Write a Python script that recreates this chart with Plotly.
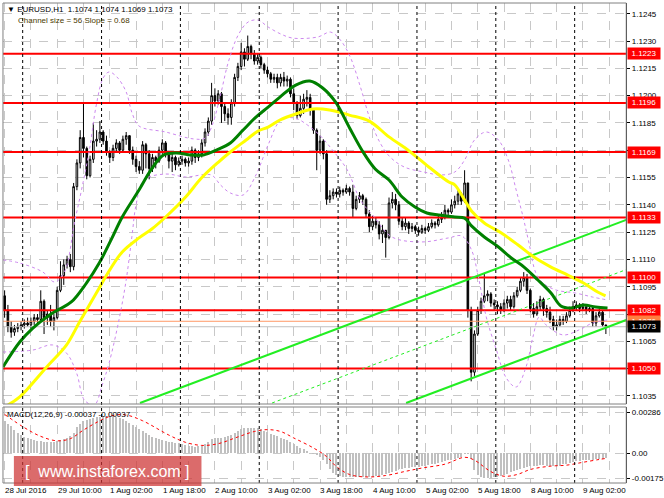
import plotly.graph_objects as go

W, H = 664, 498

# ---------------- data ----------------
bar_idx = list(range(184))
open_ = [1.1090,1.1082,1.1073,1.1070,1.1072,1.1073,1.1074,1.1075,1.1074,1.1076,
         1.1078,1.1077,1.1087,1.1078,1.1080,1.1076,1.1078,1.1093,1.1101,1.1107,
         1.1110,1.1106,1.1150,1.1163,1.1177,1.1171,1.1156,1.1165,1.1175,1.1176,
         1.1180,1.1175,1.1169,1.1166,1.1171,1.1174,1.1170,1.1176,1.1178,1.1170,
         1.1165,1.1161,1.1159,1.1173,1.1168,1.1160,1.1166,1.1164,1.1170,1.1174,
         1.1168,1.1164,1.1166,1.1162,1.1164,1.1165,1.1163,1.1164,1.1170,1.1166,
         1.1168,1.1174,1.1180,1.1186,1.1200,1.1197,1.1201,1.1194,1.1190,1.1188,
         1.1196,1.1210,1.1216,1.1224,1.1220,1.1227,1.1223,1.1219,1.1221,1.1217,
         1.1214,1.1212,1.1209,1.1210,1.1207,1.1210,1.1208,1.1209,1.1201,1.1196,
         1.1189,1.1193,1.1198,1.1199,1.1192,1.1181,1.1170,1.1175,1.1168,1.1143,
         1.1145,1.1147,1.1146,1.1148,1.1147,1.1149,1.1147,1.1138,1.1143,1.1145,
         1.1143,1.1135,1.1128,1.1131,1.1129,1.1124,1.1126,1.1122,1.1141,1.1143,
         1.1140,1.1131,1.1128,1.1130,1.1127,1.1128,1.1126,1.1125,1.1127,1.1126,
         1.1128,1.1130,1.1129,1.1132,1.1133,1.1137,1.1136,1.1140,1.1142,1.1146,
         1.1142,1.1152,1.1082,1.1048,1.1069,1.1082,1.1087,1.1090,1.1091,1.1086,
         1.1085,1.1084,1.1082,1.1086,1.1088,1.1084,1.1090,1.1093,1.1098,1.1100,
         1.1093,1.1083,1.1080,1.1084,1.1088,1.1083,1.1081,1.1077,1.1073,1.1074,
         1.1077,1.1076,1.1079,1.1082,1.1084,1.1085,1.1083,1.1084,1.1082,1.1083,
         1.1075,1.1079,1.1081,1.1074]
high = [1.1093,1.1085,1.1076,1.1074,1.1075,1.1076,1.1077,1.1078,1.1078,1.1080,
        1.1080,1.1093,1.1088,1.1082,1.1085,1.1080,1.1095,1.1109,1.1110,1.1112,
        1.1113,1.1152,1.1165,1.1181,1.1196,1.1172,1.1167,1.1185,1.1181,1.1186,
        1.1181,1.1178,1.1170,1.1173,1.1176,1.1175,1.1178,1.1180,1.1178,1.1172,
        1.1167,1.1164,1.1175,1.1174,1.1170,1.1168,1.1167,1.1172,1.1176,1.1175,
        1.1169,1.1168,1.1167,1.1166,1.1167,1.1166,1.1166,1.1172,1.1171,1.1170,
        1.1176,1.1182,1.1188,1.1207,1.1204,1.1203,1.1202,1.1196,1.1193,1.1198,
        1.1212,1.1218,1.1229,1.1226,1.1233,1.1228,1.1225,1.1223,1.1222,1.1218,
        1.1216,1.1213,1.1212,1.1212,1.1212,1.1213,1.1211,1.1210,1.1204,1.1197,
        1.1200,1.1201,1.1203,1.1201,1.1193,1.1182,1.1178,1.1176,1.1170,1.1148,
        1.1149,1.1149,1.1150,1.1149,1.1151,1.1150,1.1151,1.1145,1.1147,1.1146,
        1.1144,1.1137,1.1134,1.1133,1.1131,1.1129,1.1126,1.1144,1.1147,1.1146,
        1.1142,1.1133,1.1133,1.1131,1.1130,1.1129,1.1128,1.1129,1.1128,1.1130,
        1.1132,1.1131,1.1134,1.1136,1.1140,1.1138,1.1143,1.1145,1.1148,1.1147,
        1.1159,1.1152,1.1084,1.1071,1.1084,1.1089,1.1102,1.1093,1.1092,1.1088,
        1.1087,1.1086,1.1088,1.1090,1.1090,1.1092,1.1095,1.1100,1.1103,1.1102,
        1.1094,1.1086,1.1087,1.1090,1.1089,1.1085,1.1084,1.1079,1.1077,1.1079,
        1.1079,1.1081,1.1084,1.1087,1.1087,1.1086,1.1086,1.1085,1.1085,1.1084,
        1.1081,1.1083,1.1082,1.1074]
low = [1.1078,1.1070,1.1067,1.1068,1.1070,1.1071,1.1072,1.1073,1.1072,1.1074,
       1.1075,1.1076,1.1069,1.1074,1.1073,1.1071,1.1077,1.1092,1.1096,1.1105,
       1.1103,1.1104,1.1148,1.1160,1.1166,1.1154,1.1155,1.1163,1.1172,1.1174,
       1.1173,1.1167,1.1163,1.1164,1.1169,1.1168,1.1169,1.1173,1.1168,1.1162,
       1.1158,1.1157,1.1157,1.1160,1.1154,1.1158,1.1160,1.1163,1.1168,1.1166,
       1.1160,1.1158,1.1159,1.1161,1.1162,1.1161,1.1161,1.1162,1.1163,1.1164,
       1.1166,1.1172,1.1178,1.1184,1.1194,1.1195,1.1185,1.1186,1.1184,1.1184,
       1.1194,1.1208,1.1214,1.1216,1.1219,1.1220,1.1217,1.1217,1.1215,1.1212,
       1.1210,1.1207,1.1207,1.1204,1.1205,1.1205,1.1205,1.1199,1.1192,1.1187,
       1.1188,1.1190,1.1194,1.1189,1.1179,1.1159,1.1168,1.1165,1.1140,1.1141,
       1.1143,1.1144,1.1144,1.1145,1.1146,1.1145,1.1133,1.1137,1.1141,1.1140,
       1.1133,1.1125,1.1126,1.1127,1.1121,1.1119,1.1111,1.1121,1.1138,1.1137,
       1.1129,1.1126,1.1126,1.1124,1.1125,1.1124,1.1123,1.1124,1.1124,1.1125,
       1.1127,1.1127,1.1128,1.1130,1.1132,1.1133,1.1135,1.1138,1.1140,1.1140,
       1.1141,1.1078,1.1043,1.1046,1.1068,1.1080,1.1086,1.1087,1.1084,1.1082,
       1.1080,1.1080,1.1081,1.1083,1.1082,1.1083,1.1089,1.1092,1.1095,1.1091,
       1.1081,1.1078,1.1079,1.1082,1.1079,1.1078,1.1075,1.1071,1.1071,1.1073,
       1.1074,1.1075,1.1078,1.1081,1.1082,1.1081,1.1082,1.1080,1.1081,1.1073,
       1.1073,1.1078,1.1073,1.1069]
close = [1.1082,1.1073,1.1070,1.1072,1.1073,1.1074,1.1075,1.1074,1.1076,1.1078,
         1.1077,1.1087,1.1078,1.1080,1.1076,1.1078,1.1093,1.1101,1.1107,1.1110,
         1.1106,1.1150,1.1163,1.1177,1.1171,1.1156,1.1165,1.1175,1.1176,1.1180,
         1.1175,1.1169,1.1166,1.1171,1.1174,1.1170,1.1176,1.1178,1.1170,1.1165,
         1.1161,1.1159,1.1173,1.1168,1.1160,1.1166,1.1164,1.1170,1.1174,1.1168,
         1.1164,1.1166,1.1162,1.1164,1.1165,1.1163,1.1164,1.1170,1.1166,1.1168,
         1.1174,1.1180,1.1186,1.1200,1.1197,1.1201,1.1194,1.1190,1.1188,1.1196,
         1.1210,1.1216,1.1224,1.1220,1.1227,1.1223,1.1219,1.1221,1.1217,1.1214,
         1.1212,1.1209,1.1210,1.1207,1.1210,1.1208,1.1209,1.1201,1.1196,1.1189,
         1.1193,1.1198,1.1199,1.1192,1.1181,1.1170,1.1175,1.1168,1.1143,1.1145,
         1.1147,1.1146,1.1148,1.1147,1.1149,1.1147,1.1138,1.1143,1.1145,1.1143,
         1.1135,1.1128,1.1131,1.1129,1.1124,1.1126,1.1122,1.1141,1.1143,1.1140,
         1.1131,1.1128,1.1130,1.1127,1.1128,1.1126,1.1125,1.1127,1.1126,1.1128,
         1.1130,1.1129,1.1132,1.1133,1.1137,1.1136,1.1140,1.1142,1.1146,1.1142,
         1.1152,1.1082,1.1048,1.1069,1.1082,1.1087,1.1090,1.1091,1.1086,1.1085,
         1.1084,1.1082,1.1086,1.1088,1.1084,1.1090,1.1093,1.1098,1.1100,1.1093,
         1.1083,1.1080,1.1084,1.1088,1.1083,1.1081,1.1077,1.1073,1.1074,1.1077,
         1.1076,1.1079,1.1082,1.1084,1.1085,1.1083,1.1084,1.1082,1.1083,1.1075,
         1.1079,1.1081,1.1074,1.1073]

# moving averages: bar position, price
ma_fast_x = [-0.5,4.6,8.6,13.7,16.7,20.3,24.9,28.8,32.4,35.8,40.9,44.5,48.4,52.4,56.6,60.5,64.5,
             68.7,72.6,76.5,80.2,83.8,88.6,92.9,96.8,100.7,105.0,108.9,112.8,117.0,121.0,124.9,
             128.5,132.1,137.0,140.0,142.1,146.0,150.3,154.2,158.1,162.3,166.3,169.3,172.3,
             176.2,179.9,183.5]
ma_fast_y = [1.10509,1.10646,1.10723,1.10795,1.10827,1.10866,1.10970,1.11080,1.11207,1.11333,
             1.11481,1.11591,1.11674,1.11685,1.11674,1.11674,1.11701,1.11740,1.11811,1.11882,
             1.11937,1.11992,1.12058,1.12080,1.12042,1.11965,1.11822,1.11696,1.11597,1.11536,
             1.11443,1.11388,1.11355,1.11344,1.11333,1.11327,1.11284,1.11223,1.11168,1.11108,
             1.11058,1.10987,1.10915,1.10844,1.10833,1.10849,1.10838,1.10833]
ma_slow_x = [1.0,4.6,12.8,18.8,22.8,25.8,28.8,31.8,35.8,40.9,44.8,49.0,55.1,59.9,65.1,68.7,73.5,
             77.1,80.2,83.8,88.6,93.8,98.9,104.9,111.0,117.0,123.1,129.1,135.2,137.0,140.0,142.1,
             146.0,151.2,156.3,161.1,166.3,171.4,176.2,180.5,182.9]
ma_slow_y = [1.10300,1.10344,1.10509,1.10629,1.10756,1.10849,1.10943,1.11036,1.11141,1.11218,
             1.11267,1.11333,1.11443,1.11547,1.11635,1.11690,1.11756,1.11805,1.11827,1.11866,
             1.11899,1.11926,1.11921,1.11893,1.11860,1.11773,1.11696,1.11608,1.11525,1.11510,
             1.11426,1.11366,1.11300,1.11245,1.11179,1.11113,1.11058,1.11014,1.10970,1.10921,
             1.10899]

# bands (dotted violet)
band_up_x = [-0.5,4.6,11.6,15.2,18.2,21.3,23.4,25.8,27.9,30.0,31.8,34.2,37.0,38.8,40.9,49.0,57.5,
             61.1,63.2,65.7,68.1,71.1,74.1,77.1,80.2,84.1,87.7,95.3,99.2,102.2,105.2,108.3,111.3,
             114.3,117.3,121.6,127.6,133.0,137.0,140.0,143.0,146.6,150.3,153.3,155.7,157.8,159.6,
             161.7,163.9,167.8,173.8,179.0,183.5]
band_up_y = [1.11097,1.11080,1.11031,1.10976,1.11031,1.11305,1.11481,1.11701,1.11948,1.12097,
             1.12130,1.12102,1.12020,1.11904,1.11833,1.11800,1.11762,1.11767,1.11838,1.12003,
             1.12185,1.12333,1.12404,1.12415,1.12377,1.12338,1.12316,1.12322,1.12349,1.12305,
             1.12212,1.12047,1.11866,1.11740,1.11663,1.11608,1.11580,1.11564,1.11580,1.11646,
             1.11756,1.11800,1.11756,1.11646,1.11481,1.11333,1.11190,1.11025,1.10970,1.10932,
             1.10915,1.10893,1.10877]
band_lo_x = [-0.5,8.6,14.6,18.8,21.9,24.3,27.3,29.7,31.8,34.8,37.0,38.8,40.0,42.4,49.0,55.1,62.9,
             65.7,68.7,72.6,76.5,80.2,84.1,88.3,92.2,95.8,99.8,104.3,108.3,112.5,117.9,127.0,
             135.1,139.1,142.1,144.2,146.6,149.7,152.7,155.7,158.7,160.8,162.7,164.8,169.9,174.8,
             179.0,183.5]
band_lo_y = [1.10591,1.10602,1.10630,1.10586,1.10476,1.10327,1.10300,1.10410,1.10531,1.10767,
             1.10987,1.11234,1.11399,1.11536,1.11569,1.11553,1.11564,1.11509,1.11465,1.11454,
             1.11564,1.11729,1.11866,1.11877,1.11838,1.11784,1.11701,1.11591,1.11426,1.11333,
             1.11223,1.11196,1.11218,1.11229,1.11152,1.11003,1.10783,1.10602,1.10448,1.10399,
             1.10509,1.10674,1.10783,1.10740,1.10685,1.10712,1.10751,1.10767]

# regression channel (slope 0.68 pip/bar, size 56 pips)
chan_upper = ([41.2, 189.2], [1.10311, 1.11317])
chan_mid = ([81.4, 189.2], [1.10311, 1.11044])
chan_lower = ([122.2, 189.2], [1.10311, 1.10767])

levels = [1.1223, 1.1196, 1.1169, 1.1133, 1.1100, 1.1082, 1.1050]
level_labels = ["1.1223", "1.1196", "1.1169", "1.1133", "1.1100", "1.1082", "1.1050"]
ask_level, bid_level = 1.1076, 1.1073

price_ticks = [1.1035, 1.1050, 1.1065, 1.1080, 1.1095, 1.1110, 1.1125, 1.1140, 1.1155,
               1.1170, 1.1185, 1.1200, 1.1215, 1.1230, 1.1245]
# labels hidden behind the level boxes are left blank (as in the terminal)
price_tick_text = ["1.1035", "", "1.1065", "", "1.1095", "1.1110", "1.1125", "1.1140",
                   "1.1155", "", "1.1185", "1.1200", "1.1215", "1.1230", "1.1245"]

time_label_pos = [0, 16, 32, 48, 64, 80, 96, 112, 128, 144, 160, 176]
time_labels = ["28 Jul 2016", "29 Jul 10:00", "1 Aug 02:00", "1 Aug 18:00", "2 Aug 10:00",
               "3 Aug 02:00", "3 Aug 18:00", "4 Aug 10:00", "5 Aug 02:00", "5 Aug 18:00",
               "8 Aug 10:00", "9 Aug 02:00"]
day_starts = [6, 30, 54, 78, 102, 126, 150, 174]

macd_hist = [0.00225,0.00205,0.00185,0.00160,0.00140,0.00125,0.00112,0.00102,0.00095,0.00090,
             0.00086,0.00082,0.00080,0.00079,0.00079,0.00080,0.00084,0.00090,0.00097,0.00104,
             0.00118,0.00140,0.00180,0.00205,0.00225,0.00232,0.00240,0.00245,0.00250,0.00253,
             0.00256,0.00258,0.00259,0.00256,0.00250,0.00244,0.00236,0.00225,0.00212,0.00195,
             0.00180,0.00166,0.00155,0.00143,0.00128,0.00114,0.00105,0.00095,0.00090,0.00085,
             0.00080,0.00076,0.00072,0.00068,0.00063,0.00057,0.00052,0.00047,0.00044,0.00046,
             0.00050,0.00060,0.00075,0.00095,0.00104,0.00106,0.00108,0.00112,0.00118,0.00128,
             0.00140,0.00155,0.00166,0.00172,0.00177,0.00177,0.00175,0.00172,0.00166,0.00155,
             0.00145,0.00136,0.00128,0.00118,0.00108,0.00098,0.00090,0.00080,0.00066,0.00050,
             0.00038,0.00025,0.00012,0.00000,-0.00010,-0.00017,-0.00030,-0.00050,-0.00080,-0.00115,
             -0.00138,-0.00150,-0.00160,-0.00164,-0.00167,-0.00169,-0.00170,-0.00170,-0.00169,-0.00169,
             -0.00169,-0.00168,-0.00166,-0.00162,-0.00158,-0.00150,-0.00145,-0.00140,-0.00133,-0.00125,
             -0.00115,-0.00110,-0.00105,-0.00102,-0.00100,-0.00098,-0.00096,-0.00093,-0.00090,-0.00086,
             -0.00080,-0.00076,-0.00070,-0.00062,-0.00057,-0.00051,-0.00046,-0.00040,-0.00033,-0.00027,
             -0.00010,-0.00005,-0.00041,-0.00120,-0.00150,-0.00170,-0.00174,-0.00174,-0.00172,-0.00170,
             -0.00164,-0.00158,-0.00150,-0.00143,-0.00136,-0.00128,-0.00120,-0.00110,-0.00102,-0.00097,
             -0.00092,-0.00090,-0.00088,-0.00086,-0.00085,-0.00088,-0.00090,-0.00091,-0.00090,-0.00088,
             -0.00080,-0.00074,-0.00068,-0.00062,-0.00058,-0.00054,-0.00052,-0.00050,-0.00048,-0.00046,
             -0.00043,-0.00041,-0.00039,-0.00037]
signal_x = [0, 6, 11, 16, 20, 24, 29, 33, 37, 42, 50, 55, 60, 65, 71, 76, 80, 84, 88, 94, 98, 101,
            105, 110, 116, 122, 127, 134, 140, 143, 148, 152, 156, 160, 166, 171, 176, 181, 183]
signal_y = [0.00269, 0.00177, 0.00116, 0.00085, 0.00100, 0.00160, 0.00225, 0.00262, 0.00265,
            0.00225, 0.00125, 0.00075, 0.00053, 0.00065, 0.00112, 0.00150, 0.00163, 0.00150,
            0.00105, 0.00035, -0.00025, -0.00095, -0.00150, -0.00167, -0.00157, -0.00128,
            -0.00105, -0.00078, -0.00030, -0.00050, -0.00130, -0.00162, -0.00150, -0.00115,
            -0.00092, -0.00085, -0.00065, -0.00045, -0.00038]
macd_ticks = [0.00286, 0.0, -0.00175]
macd_tick_text = ["0.00286", "0.00", "-0.00175"]

# ---------------- geometry ----------------
X0, X1 = 3, 631          # plot area pixels (left/right)
MAIN_T, MAIN_B = 3, 404
MACD_T, MACD_B = 407, 483
FONT = "Liberation Sans, Arial, sans-serif"


def px(x):
    return x / W


def py(y):
    return 1 - y / H


fig = go.Figure()

# red support / resistance levels
for lv in levels:
    fig.add_trace(go.Scatter(x=[-0.5, 189.2], y=[lv, lv], mode="lines",
                             line=dict(color="#ff0000", width=2), hoverinfo="skip", showlegend=False))
fig.add_trace(go.Scatter(x=[-0.5, 189.2], y=[ask_level, ask_level], mode="lines",
                         line=dict(color="#ff9966", width=1), hoverinfo="skip", showlegend=False))
fig.add_trace(go.Scatter(x=[-0.5, 189.2], y=[bid_level, bid_level], mode="lines",
                         line=dict(color="#c0c0c0", width=1), hoverinfo="skip", showlegend=False))

# bands
for bx, by in ((band_up_x, band_up_y), (band_lo_x, band_lo_y)):
    fig.add_trace(go.Scatter(x=bx, y=by, mode="lines", line=dict(color="#cc88ee", width=1, dash="dot"),
                             line_shape="spline", hoverinfo="skip", showlegend=False))

# channel
for (cx, cy), dash, wd in ((chan_upper, "solid", 2), (chan_mid, "dot", 1), (chan_lower, "solid", 2)):
    fig.add_trace(go.Scatter(x=cx, y=cy, mode="lines", line=dict(color="#22ee22", width=wd, dash=dash),
                             hoverinfo="skip", showlegend=False))

# moving averages
fig.add_trace(go.Scatter(x=ma_slow_x, y=ma_slow_y, mode="lines", line=dict(color="#ffff00", width=3),
                         line_shape="spline", hoverinfo="skip", showlegend=False))
fig.add_trace(go.Scatter(x=ma_fast_x, y=ma_fast_y, mode="lines", line=dict(color="#008000", width=3),
                         line_shape="spline", hoverinfo="skip", showlegend=False))

# candles
fig.add_trace(go.Candlestick(x=bar_idx, open=open_, high=high, low=low, close=close,
                             increasing=dict(line=dict(color="#000000", width=1), fillcolor="#ffffff"),
                             decreasing=dict(line=dict(color="#000000", width=1), fillcolor="#000000"),
                             whiskerwidth=0, hoverinfo="skip", showlegend=False))

# MACD
fig.add_trace(go.Bar(x=bar_idx, y=macd_hist, yaxis="y2", marker=dict(color="#c0c0c0", line=dict(width=0)),
                     width=0.6, hoverinfo="skip", showlegend=False))
fig.add_trace(go.Scatter(x=signal_x, y=signal_y, yaxis="y2", mode="lines", line_shape="spline",
                         line=dict(color="#ff0000", width=1, dash="dot"), hoverinfo="skip", showlegend=False))

shapes = []
for d in day_starts:
    shapes.append(dict(type="line", xref="x", yref="paper", x0=d - 0.5, x1=d - 0.5,
                       y0=py(MACD_B), y1=py(MAIN_T), line=dict(color="#000000", width=1, dash="dot"),
                       layer="above"))
# panel borders
for (ya, yb) in ((MAIN_T, MAIN_B), (MACD_T, MACD_B)):
    shapes.append(dict(type="rect", xref="paper", yref="paper", x0=px(X0), x1=px(X1),
                       y0=py(yb), y1=py(ya), line=dict(color="#808080", width=1), layer="above"))
# watermark
shapes.append(dict(type="rect", xref="paper", yref="paper", x0=px(14), x1=px(203), y0=py(486), y1=py(456),
                   fillcolor="rgba(205,50,50,0.72)", line=dict(width=0), layer="above"))

ann = []
ann.append(dict(xref="paper", yref="paper", x=px(5), y=py(9), xanchor="left", yanchor="middle",
                text="▼ EURUSD,H1  1.1074 1.1074 1.1069 1.1073", showarrow=False,
                font=dict(family=FONT, size=8, color="#000000")))
ann.append(dict(xref="paper", yref="paper", x=px(16), y=py(20), xanchor="left", yanchor="middle",
                text="Channel size = 56 Slope = 0.68", showarrow=False,
                font=dict(family=FONT, size=8, color="#4a3a00")))
ann.append(dict(xref="paper", yref="paper", x=px(5), y=py(414), xanchor="left", yanchor="middle",
                text="MACD(12,26,9) -0.00037 -0.00037", showarrow=False,
                font=dict(family=FONT, size=8, color="#000000")))
for pos, lab in zip(time_label_pos, time_labels):
    ann.append(dict(xref="x", yref="paper", x=pos - 0.5, y=py(490), xanchor="left", yanchor="middle",
                    text=lab, showarrow=False, font=dict(family=FONT, size=8, color="#000000")))
for lv, lab in zip(levels, level_labels):
    ann.append(dict(xref="paper", yref="y", x=px(632), y=lv, xanchor="left", yanchor="middle",
                    text=lab, showarrow=False, bgcolor="#ff0000", borderpad=1, width=30,
                    font=dict(family=FONT, size=8, color="#ffffff")))
ann.append(dict(xref="paper", yref="y", x=px(632), y=ask_level, xanchor="left", yanchor="middle",
                text="1.1076", showarrow=False, bgcolor="#ff7f40", borderpad=1, width=30,
                font=dict(family=FONT, size=8, color="#ffffff")))
ann.append(dict(xref="paper", yref="y", x=px(632), y=bid_level, xanchor="left", yanchor="middle",
                text="1.1073", showarrow=False, bgcolor="#000000", borderpad=1, width=30,
                font=dict(family=FONT, size=8, color="#ffffff")))
ann.append(dict(xref="paper", yref="paper", x=px(108), y=py(471), xanchor="center", yanchor="middle",
                text="[  www.instaforex.com ]", showarrow=False,
                font=dict(family=FONT, size=16, color="#ffffff")))

fig.update_layout(
    width=W, height=H, margin=dict(l=0, r=0, t=0, b=0),
    paper_bgcolor="#ffffff", plot_bgcolor="#ffffff", showlegend=False, bargap=0,
    shapes=shapes, annotations=ann, hovermode=False,
    xaxis=dict(domain=[px(X0), px(X1)], range=[-0.5, 189.2], anchor="y2", showticklabels=False,
               tickvals=list(range(0, 185, 8)), showgrid=True, gridcolor="#c8c8c8", griddash="dash",
               gridwidth=1, zeroline=False, showline=False, ticks="", rangeslider=dict(visible=False),
               fixedrange=True),
    yaxis=dict(domain=[py(MAIN_B), py(MAIN_T)], range=[1.103055, 1.125088], side="right", anchor="x",
               tickvals=price_ticks, ticktext=price_tick_text, ticks="outside", ticklen=3,
               tickcolor="#000000", tickfont=dict(family=FONT, size=8, color="#000000"),
               showgrid=True, gridcolor="#c8c8c8", griddash="dash", zeroline=False,
               showline=True, linecolor="#000000", linewidth=1),
    yaxis2=dict(domain=[py(MACD_B), py(MACD_T)], range=[-0.002093, 0.003209], side="right", anchor="x",
                tickvals=macd_ticks, ticktext=macd_tick_text, ticks="outside", ticklen=3,
                tickcolor="#000000", tickfont=dict(family=FONT, size=8, color="#000000"),
                showgrid=True, gridcolor="#c8c8c8", griddash="dash", zeroline=False,
                showline=True, linecolor="#000000", linewidth=1),
)

fig.write_html("out.html", config={"displayModeBar": False, "staticPlot": True},
               post_script="document.body.style.margin='0px';document.body.style.overflow='hidden';")
